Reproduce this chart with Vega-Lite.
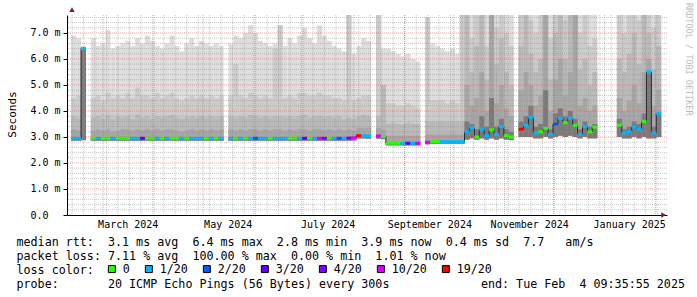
{
  "$schema": "https://vega.github.io/schema/vega-lite/v6.json",
  "autosize": {"type": "none"},
  "padding": {"left": 67, "top": 15, "right": 30, "bottom": 82},
  "width": 600,
  "height": 200,
  "background": "white",
  "config": {"view": {"stroke": null}, "font": "DejaVu Sans Mono", "axisY": {"labelOverlap": false, "tickCount": 8}},
  "title": {"text": "RRDTOOL / TOBI OETIKER", "orient": "right", "anchor": "start", "frame": "group", "offset": -7, "dx": -12, "baseline": "alphabetic", "fontSize": 8.5, "font": "DejaVu Sans Mono", "fontWeight": "normal", "color": "#bcbcbc"},
  "datasets": {
    "smoke": [
      {"t":"2024-02-12","lo":2.86,"c1":2.95,"c2":3.3,"c3":3.8,"c4":4.5,"hi":6.9,"med":2.95,"loss":"1/20","seg":"A"},
      {"t":"2024-02-15","lo":2.86,"c1":2.95,"c2":3.25,"c3":3.75,"c4":4.6,"hi":6.8,"med":2.95,"loss":"1/20","seg":"A"},
      {"t":"2024-02-18","lo":2.88,"c1":6.4,"c2":6.4,"c3":6.4,"c4":6.45,"hi":6.5,"med":6.4,"loss":"1/20","seg":"A"},
      {"t":"2024-02-24","lo":2.86,"c1":2.95,"c2":3.25,"c3":3.75,"c4":4.5,"hi":6.8,"med":2.95,"loss":"0","seg":"B"},
      {"t":"2024-02-27","lo":2.86,"c1":2.95,"c2":3.3,"c3":3.8,"c4":4.6,"hi":6.5,"med":2.95,"loss":"1/20","seg":"B"},
      {"t":"2024-03-01","lo":2.86,"c1":2.95,"c2":3.25,"c3":3.7,"c4":4.4,"hi":6.6,"med":2.95,"loss":"0","seg":"B"},
      {"t":"2024-03-04","lo":2.86,"c1":2.95,"c2":3.3,"c3":3.85,"c4":4.7,"hi":7.1,"med":2.95,"loss":"0","seg":"B"},
      {"t":"2024-03-07","lo":2.86,"c1":2.95,"c2":3.2,"c3":3.7,"c4":4.5,"hi":6.4,"med":2.95,"loss":"1/20","seg":"B"},
      {"t":"2024-03-10","lo":2.86,"c1":2.95,"c2":3.25,"c3":3.8,"c4":4.6,"hi":6.5,"med":2.95,"loss":"0","seg":"B"},
      {"t":"2024-03-13","lo":2.86,"c1":2.95,"c2":3.3,"c3":3.75,"c4":4.5,"hi":6.6,"med":2.95,"loss":"0","seg":"B"},
      {"t":"2024-03-16","lo":2.86,"c1":2.95,"c2":3.3,"c3":3.8,"c4":4.7,"hi":6.7,"med":2.95,"loss":"0","seg":"B"},
      {"t":"2024-03-19","lo":2.86,"c1":2.95,"c2":3.25,"c3":3.7,"c4":4.5,"hi":6.5,"med":2.95,"loss":"1/20","seg":"B"},
      {"t":"2024-03-22","lo":2.86,"c1":2.95,"c2":3.3,"c3":3.85,"c4":4.9,"hi":6.8,"med":2.95,"loss":"1/20","seg":"B"},
      {"t":"2024-03-25","lo":2.86,"c1":2.95,"c2":3.25,"c3":3.75,"c4":4.6,"hi":6.6,"med":2.95,"loss":"3/20","seg":"B"},
      {"t":"2024-03-28","lo":2.86,"c1":2.95,"c2":3.3,"c3":3.8,"c4":4.6,"hi":6.9,"med":2.95,"loss":"0","seg":"B"},
      {"t":"2024-03-31","lo":2.86,"c1":2.95,"c2":3.25,"c3":3.7,"c4":4.5,"hi":6.7,"med":2.95,"loss":"0","seg":"B"},
      {"t":"2024-04-03","lo":2.86,"c1":2.95,"c2":3.3,"c3":3.8,"c4":4.7,"hi":6.5,"med":2.95,"loss":"1/20","seg":"B"},
      {"t":"2024-04-06","lo":2.86,"c1":2.95,"c2":3.25,"c3":3.75,"c4":4.5,"hi":6.4,"med":2.95,"loss":"0","seg":"B"},
      {"t":"2024-04-09","lo":2.86,"c1":2.95,"c2":3.3,"c3":3.8,"c4":4.6,"hi":6.6,"med":2.95,"loss":"1/20","seg":"B"},
      {"t":"2024-04-12","lo":2.86,"c1":2.95,"c2":3.3,"c3":3.85,"c4":4.7,"hi":6.9,"med":2.95,"loss":"0","seg":"B"},
      {"t":"2024-04-15","lo":2.86,"c1":2.95,"c2":3.25,"c3":3.75,"c4":4.5,"hi":6.5,"med":2.95,"loss":"0","seg":"B"},
      {"t":"2024-04-18","lo":2.86,"c1":2.95,"c2":3.2,"c3":3.7,"c4":4.4,"hi":6.3,"med":2.95,"loss":"1/20","seg":"B"},
      {"t":"2024-04-21","lo":2.86,"c1":2.95,"c2":3.25,"c3":3.75,"c4":4.5,"hi":6.6,"med":2.95,"loss":"0","seg":"B"},
      {"t":"2024-04-24","lo":2.86,"c1":2.95,"c2":3.3,"c3":3.8,"c4":4.6,"hi":6.8,"med":2.95,"loss":"1/20","seg":"B"},
      {"t":"2024-04-27","lo":2.86,"c1":2.95,"c2":3.25,"c3":3.75,"c4":4.5,"hi":6.5,"med":2.95,"loss":"1/20","seg":"B"},
      {"t":"2024-04-30","lo":2.86,"c1":2.95,"c2":3.3,"c3":3.8,"c4":4.6,"hi":6.7,"med":2.95,"loss":"1/20","seg":"B"},
      {"t":"2024-05-03","lo":2.86,"c1":2.95,"c2":3.25,"c3":3.75,"c4":4.5,"hi":6.6,"med":2.95,"loss":"0","seg":"B"},
      {"t":"2024-05-06","lo":2.86,"c1":2.95,"c2":3.3,"c3":3.8,"c4":4.6,"hi":6.5,"med":2.95,"loss":"1/20","seg":"B"},
      {"t":"2024-05-09","lo":2.86,"c1":2.95,"c2":3.25,"c3":3.75,"c4":4.5,"hi":6.6,"med":2.95,"loss":"0","seg":"B"},
      {"t":"2024-05-12","lo":2.86,"c1":2.95,"c2":3.3,"c3":3.8,"c4":4.6,"hi":6.5,"med":2.95,"loss":"1/20","seg":"B"},
      {"t":"2024-05-18","lo":2.86,"c1":2.95,"c2":3.3,"c3":3.8,"c4":4.6,"hi":6.6,"med":2.95,"loss":"1/20","seg":"C"},
      {"t":"2024-05-21","lo":2.86,"c1":2.95,"c2":3.25,"c3":3.75,"c4":5.8,"hi":6.9,"med":2.95,"loss":"0","seg":"C"},
      {"t":"2024-05-24","lo":2.86,"c1":2.95,"c2":3.3,"c3":3.8,"c4":4.6,"hi":6.8,"med":2.95,"loss":"1/20","seg":"C"},
      {"t":"2024-05-27","lo":2.86,"c1":2.95,"c2":3.25,"c3":3.75,"c4":4.5,"hi":7.0,"med":2.95,"loss":"0","seg":"C"},
      {"t":"2024-05-30","lo":2.86,"c1":2.95,"c2":3.3,"c3":3.85,"c4":4.7,"hi":7.3,"med":2.95,"loss":"1/20","seg":"C"},
      {"t":"2024-06-02","lo":2.86,"c1":2.95,"c2":3.3,"c3":3.8,"c4":4.6,"hi":7.0,"med":2.95,"loss":"2/20","seg":"C"},
      {"t":"2024-06-05","lo":2.86,"c1":2.95,"c2":3.25,"c3":3.75,"c4":4.5,"hi":6.7,"med":2.95,"loss":"1/20","seg":"C"},
      {"t":"2024-06-08","lo":2.86,"c1":2.95,"c2":3.3,"c3":3.8,"c4":4.6,"hi":6.6,"med":2.95,"loss":"1/20","seg":"C"},
      {"t":"2024-06-11","lo":2.86,"c1":2.95,"c2":3.25,"c3":3.75,"c4":4.5,"hi":6.5,"med":2.95,"loss":"0","seg":"C"},
      {"t":"2024-06-14","lo":2.86,"c1":2.95,"c2":3.3,"c3":3.8,"c4":6.4,"hi":6.6,"med":2.95,"loss":"1/20","seg":"C"},
      {"t":"2024-06-17","lo":2.86,"c1":2.95,"c2":3.3,"c3":3.8,"c4":7.3,"hi":7.3,"med":2.95,"loss":"1/20","seg":"C"},
      {"t":"2024-06-20","lo":2.86,"c1":2.95,"c2":3.25,"c3":3.75,"c4":4.5,"hi":6.5,"med":2.95,"loss":"1/20","seg":"C"},
      {"t":"2024-06-23","lo":2.86,"c1":2.95,"c2":3.3,"c3":3.8,"c4":4.6,"hi":6.8,"med":2.95,"loss":"0","seg":"C"},
      {"t":"2024-06-26","lo":2.86,"c1":2.95,"c2":3.25,"c3":3.75,"c4":4.5,"hi":6.6,"med":2.95,"loss":"0","seg":"C"},
      {"t":"2024-06-29","lo":2.86,"c1":2.95,"c2":3.3,"c3":3.8,"c4":4.7,"hi":6.9,"med":2.95,"loss":"1/20","seg":"C"},
      {"t":"2024-07-02","lo":2.86,"c1":2.95,"c2":3.3,"c3":3.85,"c4":4.7,"hi":7.2,"med":2.95,"loss":"3/20","seg":"C"},
      {"t":"2024-07-05","lo":2.86,"c1":2.95,"c2":3.25,"c3":3.75,"c4":4.6,"hi":6.8,"med":2.95,"loss":"0","seg":"C"},
      {"t":"2024-07-08","lo":2.86,"c1":2.95,"c2":3.3,"c3":3.8,"c4":4.6,"hi":6.6,"med":2.95,"loss":"1/20","seg":"C"},
      {"t":"2024-07-11","lo":2.86,"c1":2.95,"c2":3.3,"c3":3.8,"c4":4.7,"hi":7.3,"med":2.95,"loss":"10/20","seg":"C"},
      {"t":"2024-07-14","lo":2.86,"c1":2.95,"c2":3.25,"c3":3.75,"c4":4.6,"hi":6.9,"med":2.95,"loss":"4/20","seg":"C"},
      {"t":"2024-07-17","lo":2.86,"c1":2.95,"c2":3.3,"c3":3.8,"c4":4.6,"hi":6.7,"med":2.95,"loss":"0","seg":"C"},
      {"t":"2024-07-20","lo":2.86,"c1":2.95,"c2":3.25,"c3":3.75,"c4":4.5,"hi":6.5,"med":2.95,"loss":"1/20","seg":"C"},
      {"t":"2024-07-23","lo":2.86,"c1":2.95,"c2":3.3,"c3":3.8,"c4":4.5,"hi":6.4,"med":2.95,"loss":"2/20","seg":"C"},
      {"t":"2024-07-26","lo":2.86,"c1":2.95,"c2":3.25,"c3":3.7,"c4":4.4,"hi":6.3,"med":2.95,"loss":"1/20","seg":"C"},
      {"t":"2024-07-29","lo":2.86,"c1":2.95,"c2":3.3,"c3":3.75,"c4":7.8,"hi":7.8,"med":2.96,"loss":"4/20","seg":"C"},
      {"t":"2024-08-01","lo":2.87,"c1":2.97,"c2":3.25,"c3":3.7,"c4":4.4,"hi":6.2,"med":2.97,"loss":"10/20","seg":"C"},
      {"t":"2024-08-04","lo":2.95,"c1":3.05,"c2":3.35,"c3":3.8,"c4":4.5,"hi":6.5,"med":3.05,"loss":"19/20","seg":"C"},
      {"t":"2024-08-07","lo":2.95,"c1":3.05,"c2":3.35,"c3":3.85,"c4":4.6,"hi":6.8,"med":3.05,"loss":"1/20","seg":"C"},
      {"t":"2024-08-10","lo":2.94,"c1":3.04,"c2":3.35,"c3":3.8,"c4":4.6,"hi":6.7,"med":3.04,"loss":"1/20","seg":"C"},
      {"t":"2024-08-16","lo":2.94,"c1":3.04,"c2":3.35,"c3":3.8,"c4":7.8,"hi":7.8,"med":3.04,"loss":"10/20","seg":"D"},
      {"t":"2024-08-19","lo":2.92,"c1":3.02,"c2":3.3,"c3":5.0,"c4":5.0,"hi":6.4,"med":3.02,"loss":"0","seg":"D"},
      {"t":"2024-08-22","lo":2.68,"c1":2.76,"c2":3.05,"c3":3.5,"c4":4.3,"hi":6.4,"med":2.76,"loss":"0","seg":"D"},
      {"t":"2024-08-25","lo":2.68,"c1":2.76,"c2":3.05,"c3":3.55,"c4":4.3,"hi":6.3,"med":2.76,"loss":"0","seg":"D"},
      {"t":"2024-08-28","lo":2.68,"c1":2.76,"c2":3.05,"c3":3.5,"c4":4.2,"hi":6.2,"med":2.76,"loss":"0","seg":"D"},
      {"t":"2024-08-31","lo":2.68,"c1":2.76,"c2":3.05,"c3":3.5,"c4":4.2,"hi":6.1,"med":2.76,"loss":"1/20","seg":"D"},
      {"t":"2024-09-03","lo":2.68,"c1":2.76,"c2":3.05,"c3":3.55,"c4":4.3,"hi":6.2,"med":2.76,"loss":"3/20","seg":"D"},
      {"t":"2024-09-06","lo":2.68,"c1":2.76,"c2":3.05,"c3":3.5,"c4":4.2,"hi":6.0,"med":2.76,"loss":"1/20","seg":"D"},
      {"t":"2024-09-09","lo":2.68,"c1":2.76,"c2":3.05,"c3":3.5,"c4":4.1,"hi":5.9,"med":2.76,"loss":"10/20","seg":"D"},
      {"t":"2024-09-15","lo":2.72,"c1":2.8,"c2":3.1,"c3":3.6,"c4":7.6,"hi":7.6,"med":2.8,"loss":"10/20","seg":"E"},
      {"t":"2024-09-18","lo":2.74,"c1":2.82,"c2":3.1,"c3":3.6,"c4":4.4,"hi":6.6,"med":2.82,"loss":"0","seg":"E"},
      {"t":"2024-09-21","lo":2.74,"c1":2.82,"c2":3.1,"c3":3.6,"c4":4.4,"hi":6.5,"med":2.82,"loss":"0","seg":"E"},
      {"t":"2024-09-24","lo":2.74,"c1":2.82,"c2":3.1,"c3":3.6,"c4":4.4,"hi":6.4,"med":2.82,"loss":"1/20","seg":"E"},
      {"t":"2024-09-27","lo":2.74,"c1":2.82,"c2":3.1,"c3":3.6,"c4":4.3,"hi":6.3,"med":2.82,"loss":"1/20","seg":"E"},
      {"t":"2024-09-30","lo":2.74,"c1":2.82,"c2":3.1,"c3":3.6,"c4":4.4,"hi":6.4,"med":2.82,"loss":"1/20","seg":"E"},
      {"t":"2024-10-03","lo":2.74,"c1":2.82,"c2":3.1,"c3":3.6,"c4":4.3,"hi":6.2,"med":2.82,"loss":"1/20","seg":"E"},
      {"t":"2024-10-06","lo":2.74,"c1":2.82,"c2":3.1,"c3":3.6,"c4":7.8,"hi":7.8,"med":2.82,"loss":"1/20","seg":"E"},
      {"t":"2024-10-09","lo":2.9,"c1":3.6,"c2":5.0,"c3":7.8,"c4":7.8,"hi":7.8,"med":3.2,"loss":"1/20","seg":"E"},
      {"t":"2024-10-12","lo":2.95,"c1":3.5,"c2":4.2,"c3":5.5,"c4":6.8,"hi":7.8,"med":3.35,"loss":"1/20","seg":"E"},
      {"t":"2024-10-15","lo":2.9,"c1":3.3,"c2":4.5,"c3":6.5,"c4":7.8,"hi":7.8,"med":3.0,"loss":"0","seg":"E"},
      {"t":"2024-10-18","lo":2.95,"c1":3.8,"c2":5.5,"c3":7.8,"c4":7.8,"hi":7.8,"med":3.3,"loss":"1/20","seg":"E"},
      {"t":"2024-10-21","lo":2.9,"c1":3.4,"c2":4.0,"c3":5.2,"c4":6.5,"hi":7.8,"med":3.05,"loss":"1/20","seg":"E"},
      {"t":"2024-10-24","lo":2.95,"c1":4.5,"c2":7.8,"c3":7.8,"c4":7.8,"hi":7.8,"med":3.28,"loss":"0","seg":"E"},
      {"t":"2024-10-27","lo":2.9,"c1":3.4,"c2":4.3,"c3":5.8,"c4":7.2,"hi":7.8,"med":3.1,"loss":"1/20","seg":"E"},
      {"t":"2024-10-30","lo":2.95,"c1":3.7,"c2":5.0,"c3":6.8,"c4":7.8,"hi":7.8,"med":3.4,"loss":"1/20","seg":"E"},
      {"t":"2024-11-02","lo":2.9,"c1":3.3,"c2":4.1,"c3":5.5,"c4":7.0,"hi":7.8,"med":3.05,"loss":"0","seg":"E"},
      {"t":"2024-11-05","lo":2.88,"c1":3.2,"c2":3.8,"c3":5.0,"c4":6.5,"hi":7.8,"med":3.0,"loss":"0","seg":"E"},
      {"t":"2024-11-11","lo":3.0,"c1":3.6,"c2":4.8,"c3":6.5,"c4":7.8,"hi":7.8,"med":3.3,"loss":"19/20","seg":"F"},
      {"t":"2024-11-14","lo":3.0,"c1":3.8,"c2":5.5,"c3":7.8,"c4":7.8,"hi":7.8,"med":3.45,"loss":"1/20","seg":"F"},
      {"t":"2024-11-17","lo":3.0,"c1":4.2,"c2":5.0,"c3":6.2,"c4":7.5,"hi":7.8,"med":3.75,"loss":"1/20","seg":"F"},
      {"t":"2024-11-20","lo":2.95,"c1":3.4,"c2":4.2,"c3":5.5,"c4":7.0,"hi":7.8,"med":3.15,"loss":"1/20","seg":"F"},
      {"t":"2024-11-23","lo":2.95,"c1":3.5,"c2":4.6,"c3":6.0,"c4":7.8,"hi":7.8,"med":3.2,"loss":"0","seg":"F"},
      {"t":"2024-11-26","lo":3.0,"c1":4.8,"c2":7.8,"c3":7.8,"c4":7.8,"hi":7.8,"med":3.33,"loss":"0","seg":"F"},
      {"t":"2024-11-29","lo":2.95,"c1":3.3,"c2":4.0,"c3":5.2,"c4":6.8,"hi":7.8,"med":3.1,"loss":"1/20","seg":"F"},
      {"t":"2024-12-02","lo":3.0,"c1":3.9,"c2":5.2,"c3":7.0,"c4":7.8,"hi":7.8,"med":3.5,"loss":"2/20","seg":"F"},
      {"t":"2024-12-05","lo":3.05,"c1":4.1,"c2":6.0,"c3":7.8,"c4":7.8,"hi":7.8,"med":3.72,"loss":"1/20","seg":"F"},
      {"t":"2024-12-08","lo":3.0,"c1":3.8,"c2":4.6,"c3":6.0,"c4":7.5,"hi":7.8,"med":3.55,"loss":"0","seg":"F"},
      {"t":"2024-12-11","lo":3.05,"c1":4.0,"c2":5.5,"c3":7.8,"c4":7.8,"hi":7.8,"med":3.72,"loss":"1/20","seg":"F"},
      {"t":"2024-12-14","lo":3.0,"c1":3.7,"c2":7.8,"c3":7.8,"c4":7.8,"hi":7.8,"med":3.45,"loss":"0","seg":"F"},
      {"t":"2024-12-17","lo":2.95,"c1":3.3,"c2":4.2,"c3":5.6,"c4":7.0,"hi":7.8,"med":3.1,"loss":"1/20","seg":"F"},
      {"t":"2024-12-20","lo":3.0,"c1":3.6,"c2":4.5,"c3":6.0,"c4":7.8,"hi":7.8,"med":3.4,"loss":"1/20","seg":"F"},
      {"t":"2024-12-23","lo":2.95,"c1":3.4,"c2":4.0,"c3":5.0,"c4":6.5,"hi":7.8,"med":3.2,"loss":"0","seg":"F"},
      {"t":"2024-12-26","lo":2.95,"c1":3.5,"c2":4.2,"c3":5.5,"c4":6.8,"hi":7.8,"med":3.38,"loss":"0","seg":"F"},
      {"t":"2025-01-10","lo":3.0,"c1":3.7,"c2":4.5,"c3":6.0,"c4":7.8,"hi":7.8,"med":3.46,"loss":"0","seg":"G"},
      {"t":"2025-01-13","lo":2.95,"c1":3.3,"c2":4.0,"c3":5.5,"c4":7.0,"hi":7.8,"med":3.15,"loss":"1/20","seg":"G"},
      {"t":"2025-01-16","lo":2.95,"c1":3.4,"c2":4.4,"c3":6.2,"c4":7.8,"hi":7.8,"med":3.2,"loss":"1/20","seg":"G"},
      {"t":"2025-01-19","lo":3.0,"c1":3.6,"c2":5.0,"c3":7.0,"c4":7.8,"hi":7.8,"med":3.38,"loss":"1/20","seg":"G"},
      {"t":"2025-01-22","lo":2.95,"c1":3.5,"c2":4.3,"c3":5.8,"c4":7.5,"hi":7.8,"med":3.3,"loss":"1/20","seg":"G"},
      {"t":"2025-01-25","lo":3.0,"c1":3.9,"c2":5.5,"c3":7.8,"c4":7.8,"hi":7.8,"med":3.6,"loss":"0","seg":"G"},
      {"t":"2025-01-28","lo":2.95,"c1":5.5,"c2":6.0,"c3":7.0,"c4":7.8,"hi":7.8,"med":5.5,"loss":"1/20","seg":"G"},
      {"t":"2025-01-31","lo":2.95,"c1":3.4,"c2":4.2,"c3":5.6,"c4":7.2,"hi":7.8,"med":3.15,"loss":"1/20","seg":"G"},
      {"t":"2025-02-03","lo":3.0,"c1":3.9,"c2":4.8,"c3":6.5,"c4":7.8,"hi":7.8,"med":3.9,"loss":"1/20","seg":"G"}
    ],
    "weeks": [
      {"t":"2024-02-11"},{"t":"2024-02-18"},{"t":"2024-02-25"},{"t":"2024-03-03"},{"t":"2024-03-10"},{"t":"2024-03-17"},{"t":"2024-03-24"},{"t":"2024-03-31"},
      {"t":"2024-04-07"},{"t":"2024-04-14"},{"t":"2024-04-21"},{"t":"2024-04-28"},{"t":"2024-05-05"},{"t":"2024-05-12"},{"t":"2024-05-19"},{"t":"2024-05-26"},
      {"t":"2024-06-02"},{"t":"2024-06-09"},{"t":"2024-06-16"},{"t":"2024-06-23"},{"t":"2024-06-30"},{"t":"2024-07-07"},{"t":"2024-07-14"},{"t":"2024-07-21"},
      {"t":"2024-07-28"},{"t":"2024-08-04"},{"t":"2024-08-11"},{"t":"2024-08-18"},{"t":"2024-08-25"},{"t":"2024-09-01"},{"t":"2024-09-08"},{"t":"2024-09-15"},
      {"t":"2024-09-22"},{"t":"2024-09-29"},{"t":"2024-10-06"},{"t":"2024-10-13"},{"t":"2024-10-20"},{"t":"2024-10-27"},{"t":"2024-11-03"},{"t":"2024-11-10"},
      {"t":"2024-11-17"},{"t":"2024-11-24"},{"t":"2024-12-01"},{"t":"2024-12-08"},{"t":"2024-12-15"},{"t":"2024-12-22"},{"t":"2024-12-29"},{"t":"2025-01-05"},
      {"t":"2025-01-12"},{"t":"2025-01-19"},{"t":"2025-01-26"},{"t":"2025-02-02"}
    ],
    "months": [
      {"t":"2024-03-01"},{"t":"2024-04-01"},{"t":"2024-05-01"},{"t":"2024-06-01"},{"t":"2024-07-01"},{"t":"2024-08-01"},
      {"t":"2024-09-01"},{"t":"2024-10-01"},{"t":"2024-11-01"},{"t":"2024-12-01"},{"t":"2025-01-01"},{"t":"2025-02-01"}
    ],
    "hmin": [
      {"v":0.2},{"v":0.4},{"v":0.6},{"v":0.8},{"v":1.2},{"v":1.4},{"v":1.6},{"v":1.8},{"v":2.2},{"v":2.4},{"v":2.6},{"v":2.8},
      {"v":3.2},{"v":3.4},{"v":3.6},{"v":3.8},{"v":4.2},{"v":4.4},{"v":4.6},{"v":4.8},{"v":5.2},{"v":5.4},{"v":5.6},{"v":5.8},
      {"v":6.2},{"v":6.4},{"v":6.6},{"v":6.8},{"v":7.2},{"v":7.4},{"v":7.6}
    ],
    "hmaj": [{"v":1},{"v":2},{"v":3},{"v":4},{"v":5},{"v":6},{"v":7}]
  },
  "layer": [
    {
      "data": {"name": "smoke"},
      "mark": {"type": "bar", "size": 5, "color": "#dddddd", "clip": true},
      "encoding": {
        "x": {"field": "t", "type": "temporal",
          "scale": {"type": "utc", "domain": [{"year": 2024, "month": 2, "date": 11, "utc": true}, {"year": 2025, "month": 2, "date": 5, "utc": true}]},
          "axis": {
            "values": [{"year": 2024, "month": 3, "date": 16, "utc": true}, {"year": 2024, "month": 5, "date": 16, "utc": true}, {"year": 2024, "month": 7, "date": 16, "utc": true}, {"year": 2024, "month": 9, "date": 16, "utc": true}, {"year": 2024, "month": 11, "date": 16, "utc": true}, {"year": 2025, "month": 1, "date": 16, "utc": true}],
            "format": "%B %Y", "grid": false, "ticks": false, "tickSize": 0, "labelPadding": 12.3, "labelBaseline": "alphabetic",
            "labelFont": "DejaVu Sans Mono", "labelFontSize": 10, "labelColor": "#000000", "labelFlush": false, "labelOverlap": false,
            "domainColor": "#000000", "domainWidth": 1,
            "title": ["median rtt:\u00a0\u00a03.1 ms avg\u00a0\u00a06.4 ms max\u00a0\u00a02.8 ms min\u00a0\u00a03.9 ms now\u00a0\u00a00.4 ms sd\u00a0\u00a07.7\u00a0\u00a0\u00a0am/s",
                      "packet loss: 7.11 % avg\u00a0\u00a0100.00 % max\u00a0\u00a00.00 % min\u00a0\u00a01.01 % now",
                      "loss color:",
                      "probe:\u00a0\u00a0\u00a0\u00a0\u00a0\u00a0\u00a020 ICMP Echo Pings (56 Bytes) every 300s\u00a0\u00a0\u00a0\u00a0\u00a0\u00a0\u00a0\u00a0\u00a0\u00a0\u00a0\u00a0\u00a0end: Tue Feb\u00a0\u00a04 09:35:55 2025"],
            "titleX": -51, "titleY": 30, "titleAnchor": "start", "titleAlign": "left", "titleBaseline": "alphabetic",
            "titleFont": "DejaVu Sans Mono", "titleFontSize": 11.7, "titleFontWeight": "normal", "titleColor": "#000000", "titleLineHeight": 14.2
          }
        },
        "y": {"field": "lo", "type": "quantitative",
          "scale": {"domain": [0, 7.6923], "nice": false, "zero": true},
          "axis": {
            "values": [0, 1, 2, 3, 4, 5, 6, 7], "tickCount": 8,
            "labelExpr": "datum.value == 0 ? '0.0' : format(datum.value, '.1f') + ' m'",
            "grid": false, "tickSize": 4, "tickColor": "#000000", "domainColor": "#000000", "labelOverlap": false,
            "labelAlign": "left", "labelPadding": 33, "labelBaseline": "middle",
            "labelFont": "DejaVu Sans Mono", "labelFontSize": 10, "labelColor": "#000000",
            "title": "Seconds", "titleFont": "DejaVu Sans Mono", "titleFontSize": 11, "titleFontWeight": "normal", "titleColor": "#000000",
            "titleX": -52, "titleY": 99, "titleAngle": -90, "titleAlign": "center", "titleBaseline": "alphabetic"
          }
        },
        "y2": {"field": "hi"}
      }
    },
    {
      "data": {"name": "smoke"},
      "mark": {"type": "bar", "size": 5, "color": "#cbcbcb", "clip": true},
      "encoding": {"x": {"field": "t", "type": "temporal"}, "y": {"field": "lo", "type": "quantitative"}, "y2": {"field": "c4"}}
    },
    {
      "data": {"name": "smoke"},
      "mark": {"type": "bar", "size": 5, "color": "#b9b9b9", "clip": true},
      "encoding": {"x": {"field": "t", "type": "temporal"}, "y": {"field": "lo", "type": "quantitative"}, "y2": {"field": "c3"}}
    },
    {
      "data": {"name": "smoke"},
      "mark": {"type": "bar", "size": 5, "color": "#a6a6a6", "clip": true},
      "encoding": {"x": {"field": "t", "type": "temporal"}, "y": {"field": "lo", "type": "quantitative"}, "y2": {"field": "c2"}}
    },
    {
      "data": {"name": "smoke"},
      "mark": {"type": "bar", "size": 5, "color": "#7a7a7a", "clip": true},
      "encoding": {"x": {"field": "t", "type": "temporal"}, "y": {"field": "lo", "type": "quantitative"}, "y2": {"field": "c1"}}
    },
    {
      "data": {"name": "weeks"},
      "mark": {"type": "rule", "color": "#8f8f8f", "opacity": 0.5, "strokeDash": [1, 1], "strokeWidth": 1},
      "encoding": {"x": {"field": "t", "type": "temporal"}}
    },
    {
      "data": {"name": "hmin"},
      "mark": {"type": "rule", "color": "#8f8f8f", "opacity": 0.5, "strokeDash": [1, 1], "strokeWidth": 1},
      "encoding": {"y": {"field": "v", "type": "quantitative"}}
    },
    {
      "data": {"name": "months"},
      "mark": {"type": "rule", "color": "#de5050", "opacity": 0.5, "strokeDash": [1, 1], "strokeWidth": 1},
      "encoding": {"x": {"field": "t", "type": "temporal"}}
    },
    {
      "data": {"name": "hmaj"},
      "mark": {"type": "rule", "color": "#de5050", "opacity": 0.5, "strokeDash": [1, 1], "strokeWidth": 1},
      "encoding": {"y": {"field": "v", "type": "quantitative"}}
    },
    {
      "data": {"name": "smoke"},
      "mark": {"type": "line", "interpolate": "step", "color": "#2a2a2a", "strokeWidth": 1, "clip": true},
      "encoding": {"x": {"field": "t", "type": "temporal"}, "y": {"field": "med", "type": "quantitative"}, "detail": {"field": "seg"}}
    },
    {
      "data": {"name": "smoke"},
      "mark": {"type": "tick", "orient": "horizontal", "size": 5, "thickness": 3, "opacity": 1, "clip": true},
      "encoding": {
        "x": {"field": "t", "type": "temporal"},
        "y": {"field": "med", "type": "quantitative"},
        "color": {"field": "loss", "type": "nominal",
          "scale": {"domain": ["0", "1/20", "2/20", "3/20", "4/20", "10/20", "19/20"], "range": ["#26ff00", "#00b8ff", "#0059ff", "#5e00ff", "#7e00ff", "#dd00ff", "#ff0000"]},
          "legend": {"orient": "none", "legendX": 39, "legendY": 248, "direction": "horizontal", "title": null,
            "labelFont": "DejaVu Sans Mono", "labelFontSize": 11.7, "labelColor": "#000000", "labelOffset": 5, "columnPadding": 13,
            "symbolType": "square", "symbolSize": 49, "symbolStrokeColor": "#000000", "symbolStrokeWidth": 1, "symbolOpacity": 1, "padding": 0, "labelLimit": 0}
        }
      }
    },
    {
      "data": {"values": [{}]},
      "mark": {"type": "point", "shape": "triangle-right", "filled": true, "color": "#7f1f1f", "size": 30, "opacity": 1, "clip": false},
      "encoding": {"x": {"datum": {"year": 2025, "month": 2, "date": 6, "utc": true}, "type": "temporal"}, "y": {"datum": 0, "type": "quantitative"}}
    },
    {
      "data": {"values": [{}]},
      "mark": {"type": "point", "shape": "triangle-up", "filled": true, "color": "#7f1f1f", "size": 30, "opacity": 1, "clip": false},
      "encoding": {"x": {"datum": {"year": 2024, "month": 2, "date": 11, "utc": true}, "type": "temporal"}, "y": {"datum": 7.9, "type": "quantitative"}}
    }
  ]
}
